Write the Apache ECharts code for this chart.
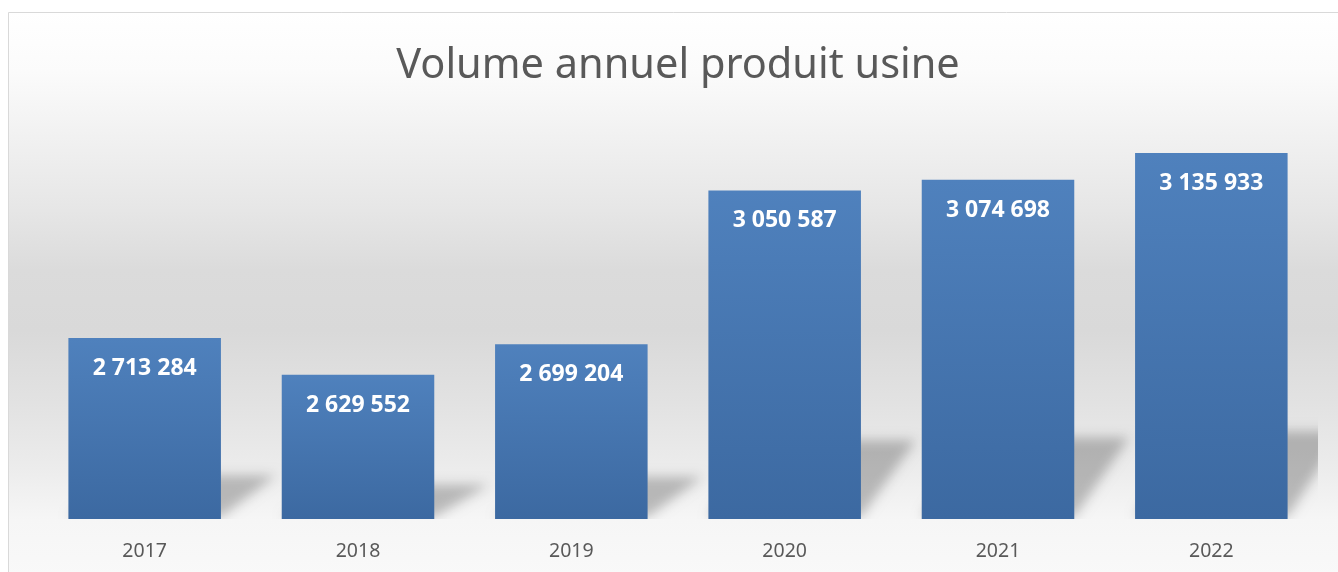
<!DOCTYPE html>
<html>
<head>
<meta charset="utf-8">
<title>Volume annuel produit usine</title>
<script src="https://cdn.jsdelivr.net/npm/echarts@6/dist/echarts.min.js"></script>
<style>
  html, body { margin: 0; padding: 0; background: #fff; }
  #chart { width: 1338px; height: 572px; }
</style>
</head>
<body>
<div id="chart"></div>
<script>
const years = ['2017', '2018', '2019', '2020', '2021', '2022']
const volumes = [2713284, 2629552, 2699204, 3050587, 3074698, 3135933]
const titleText = 'Volume annuel produit usine'

// 2 713 284
function fmt(v) {
  return String(v).replace(/\B(?=(\d{3})+(?!\d))/g, ' ')
}

const myChart = echarts.init(document.getElementById('chart'))

myChart.setOption({
  animation: false,
  backgroundColor: '#ffffff',
  graphic: [{
    type: 'rect',
    z: -10,
    silent: true,
    shape: { x: 8.5, y: 12.5, width: 1360, height: 600 },
    style: {
      stroke: '#d9d9d9',
      lineWidth: 1,
      fill: new echarts.graphic.LinearGradient(0, 0, 0, 1, [
        { offset: 0, color: '#ffffff' },
        { offset: 0.1, color: '#fbfbfb' },
        { offset: 0.22, color: '#f0f0f0' },
        { offset: 0.33, color: '#e6e6e6' },
        { offset: 0.43, color: '#dbdbdb' },
        { offset: 0.53, color: '#d9d9d9' },
        { offset: 0.65, color: '#e2e2e2' },
        { offset: 0.76, color: '#ececec' },
        { offset: 0.845, color: '#f6f6f6' },
        { offset: 1, color: '#fbfbfb' }
      ])
    }
  }],
  title: {
    text: titleText,
    left: 673,
    top: 40,
    textAlign: 'center',
    textStyle: {
      fontFamily: 'Noto Sans',
      fontWeight: 'normal',
      fontSize: 41.5,
      color: '#595959'
    }
  },
  grid: {
    left: 38,
    right: 20,
    top: 125,
    bottom: 53,
    containLabel: false
  },
  xAxis: {
    type: 'category',
    data: years,
    axisLine: { show: false },
    axisTick: { show: false },
    axisLabel: {
      margin: 22,
      fontFamily: 'Noto Sans',
      fontSize: 19.5,
      color: '#595959'
    }
  },
  yAxis: {
    type: 'value',
    min: 2300000,
    max: 3200000,
    show: false,
    splitLine: { show: false }
  },
  series: [{
    // ombre en perspective : le polygone est hors champ, seule son ombre floue est visible
    type: 'custom',
    z: 1,
    clip: true,
    silent: true,
    data: volumes,
    renderItem: function(params, api) {
      const top = api.coord([api.value(0), api.value(1)])
      const base = api.coord([api.value(0), 2300000])
      const w = api.size([1, 0])[0] * 0.715
      const h = base[1] - top[1]
      const sh = h * 0.24
      const dx = 55
      const off = 3000
      const x0 = base[0] - w / 2 - off
      const x1 = base[0] + w / 2 - off
      return {
        type: 'polygon',
        shape: {
          points: [
            [x0, base[1] - 2],
            [x1, base[1] - 2],
            [x1 + dx, base[1] - sh],
            [x0 + dx, base[1] - sh]
          ]
        },
        style: {
          fill: '#000',
          shadowBlur: 12,
          shadowOffsetX: off,
          shadowColor: 'rgba(0,0,0,0.24)'
        }
      }
    }
  }, {
    name: 'Volume',
    type: 'bar',
    z: 2,
    barWidth: '71.5%',
    data: volumes,
    itemStyle: {
      color: new echarts.graphic.LinearGradient(0, 0, 0, 1, [
        { offset: 0, color: '#4f81bd' },
        { offset: 1, color: '#3c69a1' }
      ])
    },
    label: {
      show: true,
      position: 'insideTop',
      distance: 19,
      fontFamily: 'Noto Sans',
      fontWeight: 'bold',
      fontSize: 23,
      color: '#ffffff',
      formatter: function(p) {
        return fmt(p.value)
      }
    }
  }]
})
</script>
</body>
</html>
